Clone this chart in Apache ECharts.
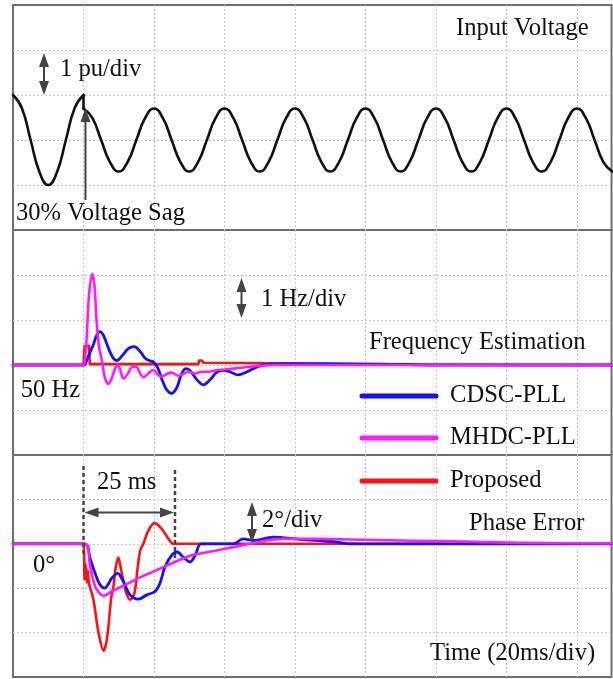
<!DOCTYPE html>
<html><head><meta charset="utf-8">
<script src="https://cdn.jsdelivr.net/npm/echarts@6/dist/echarts.min.js"></script>
<style>html,body{margin:0;padding:0;background:#fff}#c{width:613px;height:679px}</style>
</head><body><div id="c"></div>
<script>
// ---------- Input voltage (pu), time in ms ----------
const tV1 = [0, 2.5, 5, 7.5, 10, 12.5, 15, 17.5, 20];
const vV1 = [1, 0.71, 0, -0.71, -1, -0.71, 0, 0.71, 1];
const tSag = [20, 20];
const vSag = [1, 0.7];
const tV2 = [20,22.5,25,27.5,30,32.5,35,37.5,40,42.5,45,47.5,50,52.5,55,57.5,60,62.5,65,67.5,70,72.5,75,77.5,80,82.5,85,87.5,90,92.5,95,97.5,100,102.5,105,107.5,110,112.5,115,117.5,120,122.5,125,127.5,130,132.5,135,137.5,140,142.5,145,147.5,150,152.5,155,157.5,160,162.5,165,167.5,170];
const vV2 = [0.7,0.49,0,-0.49,-0.7,-0.49,0,0.49,
             0.7,0.49,0,-0.49,-0.7,-0.49,0,0.49,
             0.7,0.49,0,-0.49,-0.7,-0.49,0,0.49,
             0.7,0.49,0,-0.49,-0.7,-0.49,0,0.49,
             0.7,0.49,0,-0.49,-0.7,-0.49,0,0.49,
             0.7,0.49,0,-0.49,-0.7,-0.49,0,0.49,
             0.7,0.49,0,-0.49,-0.7,-0.49,0,0.49,
             0.7,0.49,0,-0.49,-0.7];

// ---------- Frequency estimation (Hz) ----------
const tFB = [0,20,20.5,21.4,22.8,23.7,24.7,25.7,27.1,28.3,29.5,30.9,32.8,34.4,36.1,37.5,38.9,39.8,41.1,42.4,43.6,45.0,46.5,47.7,49.0,50.2,52.1,54.0,55.9,57.7,59.6,61.5,63.8,66.2,68.5,70.9,78,90,105,120,170];
const fB  = [50,50,50.02,50.2,50.45,50.65,50.74,50.65,50.37,50.17,50.1,50.2,50.37,50.41,50.3,50.15,50.09,50.07,49.93,49.65,49.45,49.37,49.5,49.78,49.92,49.88,49.68,49.56,49.67,49.83,49.88,49.85,49.78,49.84,49.93,50,50.03,50.03,50.02,50,50];
const tFM = [0,20,20.5,20.96,21.4,21.9,22.5,23.1,23.7,24.4,25.2,26.1,27.1,28.0,29.0,29.7,30.4,31.3,32.6,33.7,34.9,36.1,37.0,38.4,39.8,40.8,42.0,43.6,45.0,46.9,48.3,49.7,51.6,53.5,55.4,57.7,60.1,64.8,69.5,74.2,170];
const fM  = [50,50,50.2,50.7,51.37,51.81,52.02,51.78,51.0,50.41,50.11,49.7,49.58,49.7,49.93,50,49.9,49.7,49.81,49.95,49.96,49.81,49.73,49.81,49.89,49.81,49.74,49.8,49.83,49.76,49.8,49.85,49.81,49.85,49.85,49.88,49.9,49.94,49.98,50,50];
const tFR = [0,20,20.3,21.6,21.8,52.6,52.8,53.6,54.0,75,95,170];
const fR  = [50,50,50.42,50.42,50.02,50.02,50.1,50.1,50.05,50.04,50.01,50];

// ---------- Phase error (deg) ----------
const tPB = [0,20.3,21.9,23.3,24.7,26.0,27.1,28.0,29.7,31.3,33.2,35.6,38.0,40.3,41.7,43.1,45.0,46.5,48.3,50.2,51.7,53.4,62.5,65.3,68.2,73.8,81.4,90.9,95.6,170];
const pB  = [0,0,-0.67,-1.33,-1.85,-2.0,-1.8,-1.55,-1.33,-1.7,-2.3,-2.49,-2.3,-2.15,-1.78,-1.04,-0.52,-0.37,-0.6,-0.82,-0.52,0,0,0.22,0.15,0.3,0.2,0.1,0,0];
const tPM = [0,20.3,21.9,23.3,24.7,25.7,28.0,31.8,36.5,40.3,45.9,50.7,53.1,57.8,62.5,67.2,71.9,76.7,86.1,100.3,113,128,145,170];
const pM  = [0,0,-1.04,-1.93,-2.25,-2.34,-2.15,-1.85,-1.48,-1.22,-0.82,-0.52,-0.44,-0.3,-0.15,0,0.15,0.22,0.22,0.18,0.14,0.1,0.04,0.02];
const tPR = [0,20.0,20.3,20.6,20.9,21.2,21.6,22.8,24.25,25.7,26.4,27.1,27.8,28.5,29.1,29.9,30.7,31.3,32.1,33.2,34.0,34.65,35.5,36.1,37.0,38.4,40.1,42.2,44.1,45.5,170];
const pR  = [0,0,-1.6,-0.9,-1.75,-1.2,-1.8,-2.5,-4.0,-4.82,-4.5,-3.7,-2.5,-1.93,-1.1,-0.62,-1.2,-1.63,-2.2,-2.52,-2.4,-2.07,-0.9,-0.3,0,0.59,0.93,0.67,0.22,0,0];

// ---------- Axis scales ----------
const timeMin = 0, timeMax = 169.8, timeStep = 20;
const yV = [-2, 3, 1];
const yF = [48, 53, 1];
const yP = [-6, 4, 2];

const legendNames = ['CDSC-PLL', 'MHDC-PLL', 'Proposed'];
const BLUE = '#1212f5', MAG = '#ff19ff', RED = '#ff1010';

const zip = (t, v) => t.map((x, i) => [x, v[i]]);

const chart = echarts.init(document.getElementById('c'), null, {renderer: 'canvas'});
const FONT = "24.6px 'Liberation Serif', 'Times New Roman', serif";
const INK = '#111';
const ARROW = '#444';

const gridBase = {left: 13, width: 598.5, show: true, borderColor: '#6e6e6e', borderWidth: 2, backgroundColor: 'transparent'};
const grids = [
  Object.assign({top: 5, height: 225}, gridBase),
  Object.assign({top: 230, height: 225}, gridBase),
  Object.assign({top: 455, height: 222}, gridBase)
];
const split = {show: true, showMinLine: false, showMaxLine: false, lineStyle: {color: '#c6c6c6', type: [2, 2], width: 1}};
const xAxes = [0, 1, 2].map(i => ({
  type: 'value', gridIndex: i, min: timeMin, max: timeMax, interval: timeStep,
  axisLine: {show: false}, axisTick: {show: false}, axisLabel: {show: false}, splitLine: split
}));
const yAxes = [yV, yF, yP].map((r, i) => ({
  type: 'value', gridIndex: i, min: r[0], max: r[1], interval: r[2],
  axisLine: {show: false}, axisTick: {show: false}, axisLabel: {show: false}, splitLine: split
}));

function ser(name, idx, t, v, color, width, smooth, z) {
  return {
    name, type: 'line', xAxisIndex: idx, yAxisIndex: idx, data: zip(t, v),
    showSymbol: false, symbol: 'none', smooth: smooth, z: z || 2,
    lineStyle: {color, width, cap: 'round', join: 'round'}, animation: false
  };
}

const series = [
  ser('V1', 0, tV1, vV1, '#111', 2.6, 0.5),
  ser('Vsag', 0, tSag, vSag, '#111', 2.6, false),
  ser('V2', 0, tV2, vV2, '#111', 2.6, 0.5),
  ser('Proposed', 1, tFR, fR, RED, 2.6, false, 2),
  ser('CDSC-PLL', 1, tFB, fB, BLUE, 2.8, 0.35, 3),
  ser('MHDC-PLL', 1, tFM, fM, MAG, 2.6, 0.35, 4),
  ser('Proposed', 2, tPR, pR, RED, 2.6, 0.3, 2),
  ser('CDSC-PLL', 2, tPB, pB, BLUE, 2.8, 0.35, 3),
  ser('MHDC-PLL', 2, tPM, pM, MAG, 2.6, 0.35, 4)
];

// ---------- annotations ----------
const g = [];
function txt(s, x, baseline) {
  g.push({type: 'text', z: 10, style: {text: s, x: x, y: baseline - 7.5, font: FONT, fill: INK, verticalAlign: 'middle', align: 'left'}});
}
function head(tip, dir, len, hw) {
  const [x, y] = tip;
  let pts;
  if (dir === 'up') pts = [[x, y], [x - hw, y + len], [x + hw, y + len]];
  if (dir === 'down') pts = [[x, y], [x - hw, y - len], [x + hw, y - len]];
  if (dir === 'left') pts = [[x, y], [x + len, y - hw], [x + len, y + hw]];
  if (dir === 'right') pts = [[x, y], [x - len, y - hw], [x - len, y + hw]];
  g.push({type: 'polygon', z: 10, shape: {points: pts}, style: {fill: ARROW}});
}
function seg(x1, y1, x2, y2, w, dash) {
  g.push({type: 'line', z: 10, shape: {x1, y1, x2, y2}, style: {stroke: ARROW, lineWidth: w, lineDash: dash || null}});
}
function vArrow(x, y1, y2) {
  seg(x, y1 + 8, x, y2 - 8, 2);
  head([x, y1], 'up', 14, 5);
  head([x, y2], 'down', 14, 5);
}

vArrow(44, 53, 95);
vArrow(241.5, 278, 318);
vArrow(252, 502, 543);
seg(85.5, 200, 85.5, 118, 2);
head([85.5, 108], 'up', 14, 5);
seg(83.5, 466, 83.5, 555, 2.5, [4, 3]);
seg(175, 470, 175, 558, 2.5, [4, 3]);
seg(92, 512.5, 167, 512.5, 2);
head([84.5, 512.5], 'left', 14, 5);
head([174, 512.5], 'right', 14, 5);

txt('Input Voltage', 456, 35.7);
txt('1 pu/div', 60, 77);
txt('30% Voltage Sag', 16, 221);
txt('1 Hz/div', 261, 306.7);
txt('Frequency Estimation', 369, 350);
txt('50 Hz', 20.7, 397.7);
txt('25 ms', 97, 490);
txt('2°/div', 262, 528.3);
txt('Phase Error', 469, 531);
txt('0°', 33, 573.3);
txt('Time (20ms/div)', 430, 660.7);

const legCol = [BLUE, MAG, RED];
const legY = [396, 438, 481];
legendNames.forEach((n, i) => {
  g.push({type: 'line', z: 10, shape: {x1: 362, y1: legY[i], x2: 436, y2: legY[i]}, style: {stroke: legCol[i], lineWidth: 5, lineCap: 'round'}});
  txt(n, 450, legY[i] + 7.5);
});

chart.setOption({
  animation: false,
  backgroundColor: '#fff',
  grid: grids, xAxis: xAxes, yAxis: yAxes, series: series, graphic: g
});
</script></body></html>
